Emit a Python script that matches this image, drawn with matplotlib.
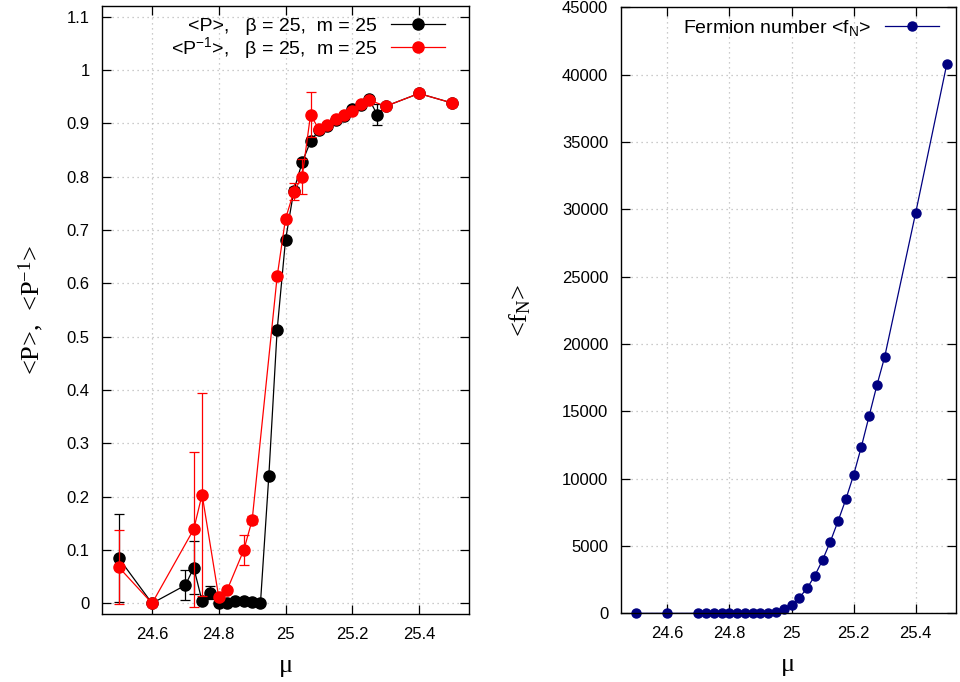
import matplotlib
matplotlib.use("Agg")
import matplotlib.pyplot as plt

plt.rcParams["font.family"] = ["Liberation Sans", "DejaVu Sans"]
plt.rcParams["mathtext.default"] = "regular"

# Polyakov loop <P> (black) and its inverse <P^-1> (red)
mu_P = [24.5, 24.6, 24.7, 24.725, 24.75, 24.775, 24.8, 24.825, 24.85, 24.875,
        24.9, 24.925, 24.95, 24.975, 25.0, 25.025, 25.05, 25.075, 25.1, 25.125,
        25.15, 25.175, 25.2, 25.225, 25.25, 25.275, 25.3, 25.4, 25.5]
P = [0.085, 0.0, 0.034, 0.067, 0.004, 0.02, 0.0, 0.0, 0.004, 0.004,
     0.002, 0.001, 0.239, 0.513, 0.681, 0.774, 0.827, 0.866, 0.887, 0.895,
     0.906, 0.914, 0.927, 0.935, 0.946, 0.916, 0.932, 0.956, 0.938]
P_err = [0.082, 0.003, 0.028, 0.05, 0.004, 0.012, 0.003, 0.002, 0.002, 0.002,
         0.002, 0.002, 0.004, 0.004, 0.004, 0.006, 0.006, 0.005, 0.004, 0.004,
         0.004, 0.004, 0.004, 0.004, 0.004, 0.02, 0.004, 0.004, 0.004]

mu_Pinv = [24.5, 24.6, 24.725, 24.75, 24.8, 24.825, 24.875, 24.9, 24.975, 25.0,
           25.025, 25.05, 25.075, 25.1, 25.125, 25.15, 25.175, 25.2, 25.225,
           25.25, 25.3, 25.4, 25.5]
Pinv = [0.068, 0.0, 0.139, 0.204, 0.011, 0.025, 0.1, 0.156, 0.613, 0.721,
        0.772, 0.800, 0.916, 0.889, 0.896, 0.908, 0.915, 0.924, 0.936,
        0.944, 0.932, 0.956, 0.938]
Pinv_err = [0.07, 0.002, 0.145, 0.19, 0.004, 0.004, 0.028, 0.007, 0.004, 0.004,
            0.016, 0.033, 0.042, 0.004, 0.004, 0.004, 0.004, 0.004, 0.004,
            0.004, 0.004, 0.004, 0.004]

# fermion number
mu_fN = mu_P
fN = [0, 0, 0, 0, 0, 0, 0, 0, 0, 5,
      15, 40, 90, 320, 616, 1158, 1857, 2792, 3958, 5317,
      6854, 8466, 10270, 12372, 14652, 16931, 19033, 29749, 40768]

left_yticks = [0, 0.1, 0.2, 0.3, 0.4, 0.5, 0.6, 0.7, 0.8, 0.9, 1, 1.1]
left_yticklabels = ["0", "0.1", "0.2", "0.3", "0.4", "0.5", "0.6", "0.7", "0.8", "0.9", "1", "1.1"]
xticks = [24.6, 24.8, 25.0, 25.2, 25.4]
xticklabels = ["24.6", "24.8", "25", "25.2", "25.4"]
right_yticks = [0, 5000, 10000, 15000, 20000, 25000, 30000, 35000, 40000, 45000]

serif = ["Liberation Serif", "DejaVu Serif"]
grid_kw = dict(color="#bbbbbb", linestyle=(0, (1, 3)), linewidth=0.9)
err_kw = dict(fmt="none", elinewidth=0.9, capsize=3.5, capthick=0.9, clip_on=False)
leg_kw = dict(loc="upper right", markerfirst=False, frameon=False, fontsize=14,
              handlelength=2.8, handletextpad=0.7, labelspacing=0.0,
              borderpad=0, borderaxespad=0)


def style_axes(ax):
    ax.tick_params(direction="in", length=6.5, width=0.9, top=True, right=True,
                   labelsize=12, pad=9)
    for s in ax.spines.values():
        s.set_linewidth(1.0)
    ax.grid(True, **grid_kw)
    ax.set_axisbelow(True)


fig = plt.figure(figsize=(9.6, 6.82), dpi=100)

# left panel
ax1 = fig.add_axes([0.10625, 0.0997, 0.3823, 0.8915])
ax1.errorbar(mu_P, P, yerr=P_err, ecolor="black", **err_kw)
ax1.plot(mu_P, P, color="black", marker="o", markersize=8, linewidth=0.9,
         label="<P>,   β = 25,  m = 25", clip_on=False)
ax1.errorbar(mu_Pinv, Pinv, yerr=Pinv_err, ecolor="red", **err_kw)
ax1.plot(mu_Pinv, Pinv, color="red", marker="o", markersize=8, linewidth=0.9,
         label="<P$^{-1}$>,   β = 25,  m = 25", clip_on=False)
ax1.set_xlim(24.45, 25.55)
ax1.set_ylim(-0.02, 1.12)
ax1.set_xticks(xticks)
ax1.set_xticklabels(xticklabels)
ax1.set_yticks(left_yticks)
ax1.set_yticklabels(left_yticklabels)
style_axes(ax1)
ax1.set_xlabel("μ", family=serif, fontsize=19, labelpad=9.5)
ax1.set_ylabel("<P>,  <P$^{-1}$>", family=serif, fontsize=19, labelpad=15)
ax1.legend(bbox_to_anchor=(0.935, 0.981), **leg_kw)

# right panel
ax2 = fig.add_axes([0.6466, 0.1007, 0.3493, 0.8886])
ax2.plot(mu_fN, fN, color="navy", marker="o", markersize=6.5, linewidth=0.9,
         label="Fermion number <f$_N$>", clip_on=False)
ax2.set_xlim(24.45, 25.53)
ax2.set_ylim(0, 45000)
ax2.set_xticks(xticks)
ax2.set_xticklabels(xticklabels)
ax2.set_yticks(right_yticks)
ax2.set_yticklabels([str(v) for v in right_yticks])
style_axes(ax2)
ax2.set_xlabel("μ", family=serif, fontsize=19, labelpad=9.5)
ax2.set_ylabel("<f$_N$>", family=serif, fontsize=19, labelpad=21)
ax2.legend(bbox_to_anchor=(0.949, 0.983), **leg_kw)

fig.savefig("out.png", dpi=100)
